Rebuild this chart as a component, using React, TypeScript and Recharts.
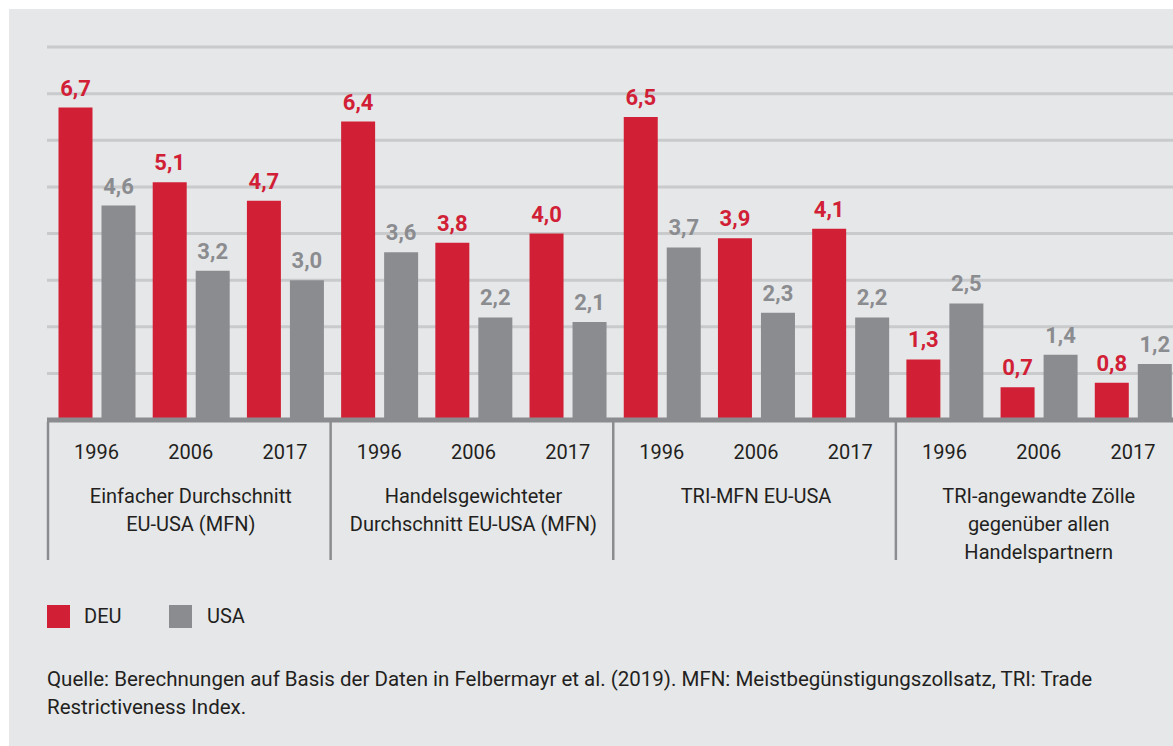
import React from 'react'
import { BarChart, Bar, XAxis, YAxis, CartesianGrid, LabelList } from 'recharts'

const YEARS = ['1996', '2006', '2017']
const GROUPS = [
  ['Einfacher Durchschnitt', 'EU-USA (MFN)'],
  ['Handelsgewichteter', 'Durchschnitt EU-USA (MFN)'],
  ['TRI-MFN EU-USA'],
  ['TRI-angewandte Zölle', 'gegenüber allen', 'Handelspartnern'],
]
const DEU = [6.7, 5.1, 4.7, 6.4, 3.8, 4.0, 6.5, 3.9, 4.1, 1.3, 0.7, 0.8]
const USA = [4.6, 3.2, 3.0, 3.6, 2.2, 2.1, 3.7, 2.3, 2.2, 2.5, 1.4, 1.2]
const Y_TICKS = [0, 1, 2, 3, 4, 5, 6, 7, 8]

const RED = '#d12035'
const GREY = '#8b8c8f'
const BG = '#e6e7e9'
const GRID = '#c9cacc'
const TEXT = '#231f20'
const FONT = 'Roboto, sans-serif'

const AXIS_Y = 420
const BAND = 94.2

const data = DEU.map((deu, i) => ({
  key: String(i),
  year: YEARS[i % 3],
  group: Math.floor(i / 3),
  DEU: deu,
  USA: USA[i],
}))

const fmt = (v: any) => Number(v).toFixed(1).replace('.', ',')

// year under each bar pair, group caption under the middle year, divider before each group
function CategoryTick(props: any) {
  const { x, payload } = props
  const i = payload.index
  const d = data[i]
  if (!d) return null
  const sepX = x - BAND / 2 - 1.5
  return (
    <g>
      {i % 3 === 0 && (
        <line x1={sepX} x2={sepX} y1={AXIS_Y + 2} y2={560} stroke={GREY} strokeWidth={2.5} />
      )}
      <text x={x} y={459} textAnchor="middle" fill={TEXT} fontSize={20} fontFamily={FONT}>
        {d.year}
      </text>
      {i % 3 === 1 &&
        GROUPS[d.group].map((line, k) => (
          <text key={k} x={x} y={503 + k * 28} textAnchor="middle" fill={TEXT} fontSize={20} fontFamily={FONT}>
            {line}
          </text>
        ))}
    </g>
  )
}

export default function App() {
  return (
    <div style={{ position: 'absolute', left: 0, top: 0, width: 1173, height: 746, overflow: 'hidden', background: '#fff' }}>
      <div style={{ position: 'absolute', left: 9, top: 9, right: 0, bottom: 0, background: BG }} />
      <div style={{ position: 'absolute', left: 0, top: 0 }}>
        <BarChart
          width={1180}
          height={570}
          data={data}
          margin={{ top: 47, right: 0, bottom: 0, left: 47 }}
          barSize={34}
          barGap={9}
        >
          <CartesianGrid vertical={false} stroke={GRID} strokeWidth={3} />
          <YAxis hide domain={[0, 8]} ticks={Y_TICKS} />
          <XAxis
            dataKey="key"
            height={150}
            padding={{ left: 2.5, right: 0 }}
            axisLine={{ stroke: GREY, strokeWidth: 5 }}
            tickLine={false}
            interval={0}
            tick={<CategoryTick />}
          />
          <Bar dataKey="DEU" fill={RED} isAnimationActive={false}>
            <LabelList
              dataKey="DEU"
              position="top"
              offset={12}
              formatter={fmt}
              fill={RED}
              fontSize={22}
              fontWeight={700}
              fontFamily={FONT}
            />
          </Bar>
          <Bar dataKey="USA" fill={GREY} isAnimationActive={false}>
            <LabelList
              dataKey="USA"
              position="top"
              offset={12}
              formatter={fmt}
              fill={GREY}
              fontSize={22}
              fontWeight={700}
              fontFamily={FONT}
            />
          </Bar>
        </BarChart>
      </div>
      <div style={{ position: 'absolute', left: 47, top: 605, fontFamily: FONT, fontSize: 20, color: TEXT }}>
        <div style={{ position: 'absolute', left: 0, top: 0, width: 23, height: 23, background: RED }} />
        <div style={{ position: 'absolute', left: 37, top: 0, lineHeight: '23px', whiteSpace: 'nowrap' }}>DEU</div>
        <div style={{ position: 'absolute', left: 122, top: 0, width: 23, height: 23, background: GREY }} />
        <div style={{ position: 'absolute', left: 160, top: 0, lineHeight: '23px', whiteSpace: 'nowrap' }}>USA</div>
      </div>
      <div
        style={{
          position: 'absolute',
          left: 47,
          top: 665,
          fontFamily: FONT,
          fontSize: 20.5,
          lineHeight: '28px',
          color: TEXT,
          whiteSpace: 'nowrap',
        }}
      >
        Quelle: Berechnungen auf Basis der Daten in Felbermayr et al. (2019). MFN: Meistbegünstigungszollsatz, TRI: Trade
        <br />
        Restrictiveness Index.
      </div>
    </div>
  )
}
